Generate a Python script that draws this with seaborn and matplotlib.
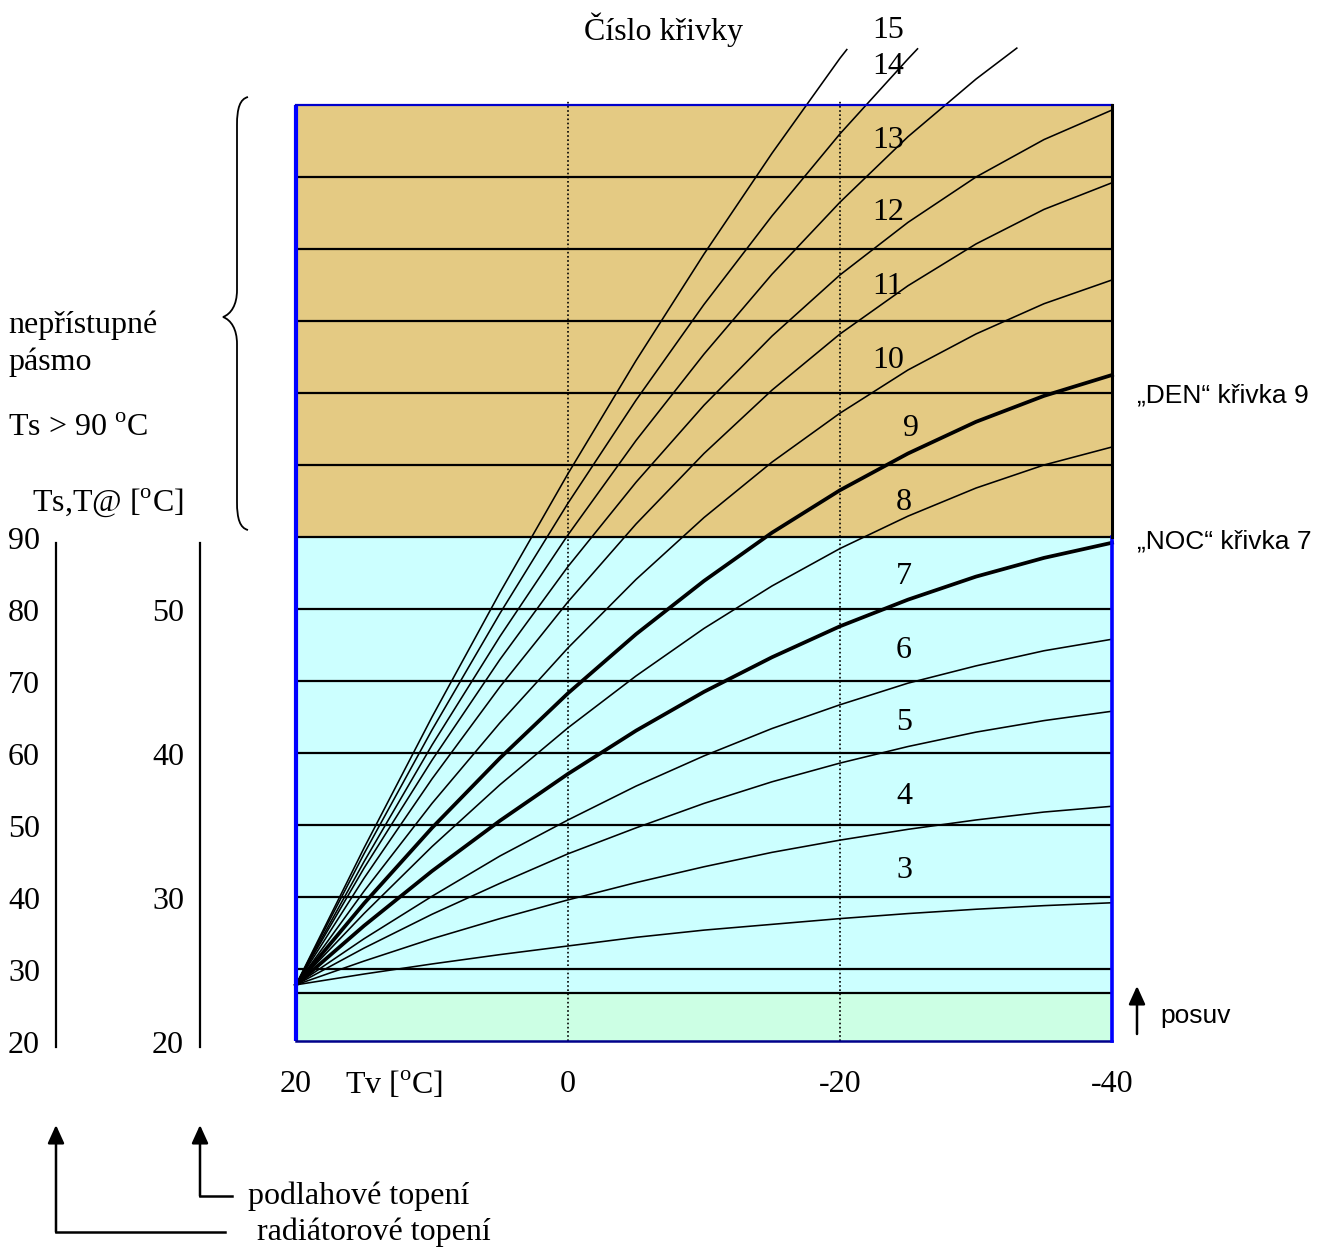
import matplotlib
matplotlib.use("Agg")
import matplotlib.pyplot as plt
import matplotlib.transforms as mtransforms
from matplotlib.path import Path
from matplotlib.patches import PathPatch
import pandas as pd
import seaborn as sns

# outdoor temperature Tv [°C] where the curves were read
tv = [20, 15, 10, 5, 0, -5, -10, -15, -20, -25, -30, -35, -40]

# supply temperature Ts [°C] of each heating curve
curve_3 = [27.8, 29.3, 30.7, 32.0, 33.2, 34.4, 35.4, 36.2, 37.0, 37.7, 38.3, 38.8, 39.2]
curve_4 = [27.8, 31.1, 34.2, 37.0, 39.6, 42.0, 44.2, 46.2, 47.9, 49.4, 50.7, 51.8, 52.6]
curve_5 = [27.8, 32.9, 37.6, 41.9, 46.0, 49.6, 53.0, 56.0, 58.6, 60.9, 62.9, 64.5, 65.8]
curve_6 = [27.8, 34.2, 40.1, 45.7, 50.7, 55.4, 59.6, 63.4, 66.7, 69.7, 72.1, 74.2, 75.8]
curve_7 = [27.8, 36.0, 43.6, 50.6, 57.1, 63.1, 68.5, 73.3, 77.6, 81.3, 84.5, 87.1, 89.2]
curve_8 = [27.8, 37.7, 47.0, 55.6, 63.5, 70.7, 77.3, 83.2, 88.4, 92.9, 96.8, 100.0, 102.5]
curve_9 = [27.8, 39.1, 49.6, 59.3, 68.3, 76.5, 83.9, 90.6, 96.5, 101.6, 106.0, 109.6, 112.5]
curve_10 = [27.8, 40.8, 53.0, 64.2, 74.6, 84.1, 92.7, 100.4, 107.2, 113.2, 118.2, 122.4, 125.7]
curve_11 = [27.8, 42.6, 56.4, 69.2, 81.0, 91.8, 101.6, 110.4, 118.2, 124.9, 130.7, 135.5, 139.2]
curve_12 = [27.8, 44.0, 59.0, 73.0, 85.9, 97.6, 108.3, 117.9, 126.4, 133.7, 140.0, 145.2, 149.3]

# the steep curves leave the chart at the top
tv_13 = [20, 15, 10, 5, 0, -5, -10, -15, -20, -25, -30, -33]
curve_13 = [27.8, 44.9, 61.1, 76.2, 90.3, 103.4, 115.4, 126.5, 136.5, 145.6, 153.6, 157.9]
tv_14 = [20, 15, 10, 5, 0, -5, -10, -15, -20, -25, -25.7]
curve_14 = [27.8, 46.0, 63.2, 79.4, 94.7, 109.0, 122.3, 134.6, 146.0, 156.4, 157.8]
tv_15 = [20, 15, 10, 5, 0, -5, -10, -15, -20, -20.5]
curve_15 = [27.8, 46.8, 65.0, 82.3, 98.8, 114.5, 129.3, 143.3, 156.5, 157.7]

bold_curves = [7, 9]          # "NOC" and "DEN"
grid_ts = [30, 40, 50, 60, 70, 80, 90, 100, 110, 120, 130, 140]
ts_limit = 90                 # above: inaccessible zone
shift_ts = 26.7               # "posuv" line
ts_top = 150
tv_marks = [0, -20]
tv_ticks = [20, 0, -20, -40]
radiator_ticks = [90, 80, 70, 60, 50, 40, 30, 20]
floor_ticks = [50, 40, 30, 20]

curves = {
    3: (tv, curve_3), 4: (tv, curve_4), 5: (tv, curve_5), 6: (tv, curve_6),
    7: (tv, curve_7), 8: (tv, curve_8), 9: (tv, curve_9), 10: (tv, curve_10),
    11: (tv, curve_11), 12: (tv, curve_12), 13: (tv_13, curve_13),
    14: (tv_14, curve_14), 15: (tv_15, curve_15),
}
rows = []
for n, (xs, ys) in curves.items():
    for x, y in zip(xs, ys):
        rows.append({"curve": n, "Tv": x, "Ts": y,
                     "w": "thick" if n in bold_curves else "thin"})
df = pd.DataFrame(rows)

plt.rcParams["mathtext.fontset"] = "custom"
plt.rcParams["mathtext.rm"] = "Liberation Serif"
SERIF = "Liberation Serif"
SANS = "Liberation Sans"

W, H = 1330, 1253
fig = plt.figure(figsize=(W / 100, H / 100), dpi=100)
ax = fig.add_axes([0, 0, 1, 1])
pix = mtransforms.Affine2D().scale(1 / W, -1 / H).translate(0, 1) + fig.transFigure
x_data = mtransforms.blended_transform_factory(ax.transData, pix)
y_data = mtransforms.blended_transform_factory(pix, ax.transData)

tan = "#E4CA83"
cyan = "#CCFFFF"
mint = "#CCFFE4"
ax.fill_between([20, -40], ts_limit, ts_top, color=tan, lw=0, zorder=0)
ax.fill_between([20, -40], shift_ts, ts_limit, color=cyan, lw=0, zorder=0)
ax.fill_between([20, -40], 20, shift_ts, color=mint, lw=0, zorder=0)

ax.hlines(grid_ts + [shift_ts], -40, 20, color="black", lw=1.6, zorder=1)
ax.vlines(tv_marks, 20, ts_top + 0.7, colors="black", linestyles=(0, (1, 1.5)), lw=1.2, zorder=1)

sns.lineplot(data=df, x="Tv", y="Ts", units="curve", estimator=None, size="w",
             sizes={"thin": 1.15, "thick": 2.7}, color="black", legend=False,
             sort=False, ax=ax, zorder=3)

# frame
ax.plot([20, 20], [20, ts_top], color="#0000FF", lw=3, zorder=4, solid_capstyle="butt")
ax.plot([20, -40], [ts_top, ts_top], color="#0000CC", lw=1.6, zorder=4)
ax.plot([20, -40], [20, 20], color="#00008B", lw=1.8, zorder=4)
ax.plot([-40, -40], [20, ts_limit], color="#0000FF", lw=2.6, zorder=4)
ax.plot([-40, -40], [ts_limit, ts_top], color="black", lw=2.2, zorder=4)

ax.set_xlim(20 + 296 / 13.6, 20 - (W - 296) / 13.6)
ax.set_ylim(20 - (H - 1041) / 7.2, 20 + 1041 / 7.2)
ax.axis("off")

fs = 23
sfs = 19
ax.text(664, 30, "Číslo křivky", transform=pix, ha="center", va="center", fontsize=fs, family=SERIF)

label_xy = {15: (888, 30), 14: (888, 67), 13: (888, 140), 12: (888, 213), 11: (888, 287),
            10: (888, 361), 9: (911, 428), 8: (904, 503), 7: (904, 576), 6: (904, 650),
            5: (904, 723), 4: (904, 796), 3: (904, 870)}
for n, (x, y) in label_xy.items():
    ax.text(x, y, str(n), transform=pix, ha="center", va="center", fontsize=fs, family=SERIF, zorder=5)

deg = r"$^{\mathrm{o}}$"
ax.text(8, 325, "nepřístupné", transform=pix, ha="left", va="center", fontsize=fs, family=SERIF)
ax.text(8, 362, "pásmo", transform=pix, ha="left", va="center", fontsize=fs, family=SERIF)
ax.text(8, 428, "Ts > 90 " + deg + "C", transform=pix, ha="left", va="center", fontsize=fs, family=SERIF)
ax.text(32, 503, "Ts,T@ [" + deg + "C]", transform=pix, ha="left", va="center", fontsize=fs, family=SERIF)

# left scales: radiator and floor heating
for v in radiator_ticks:
    ax.text(24, v - 0.6, str(v), transform=y_data, ha="center", va="center", fontsize=fs, family=SERIF)
for v in floor_ticks:
    ax.text(168, 20 + 2 * (v - 20) - 0.6, str(v), transform=y_data, ha="center", va="center",
            fontsize=fs, family=SERIF)
for x in [56, 200]:
    ax.plot([x, x], [19.2, 89.2], transform=y_data, color="black", lw=1.6)

for t in tv_ticks:
    ax.text(t, 1085, str(t), transform=x_data, ha="center", va="center", fontsize=fs, family=SERIF)
ax.text(345, 1085, "Tv [" + deg + "C]", transform=pix, ha="left", va="center", fontsize=fs, family=SERIF)

arrow = dict(arrowstyle="-|>,head_length=1.1,head_width=0.5", lw=1.8, color="black",
             shrinkA=0, shrinkB=0, mutation_scale=10)
ax.annotate("", xy=(56, 1125), xytext=(56, 1232), xycoords=pix, textcoords=pix, arrowprops=arrow)
ax.plot([56, 225], [1232, 1232], transform=pix, color="black", lw=1.8)
ax.annotate("", xy=(200, 1125), xytext=(200, 1196), xycoords=pix, textcoords=pix, arrowprops=arrow)
ax.plot([200, 232], [1196, 1196], transform=pix, color="black", lw=1.8)
ax.text(248, 1196, "podlahové topení", transform=pix, ha="left", va="center", fontsize=fs, family=SERIF)
ax.text(257, 1232, "radiátorové topení", transform=pix, ha="left", va="center", fontsize=fs, family=SERIF)

ax.annotate("", xy=(1137, 986), xytext=(1137, 1034), xycoords=pix, textcoords=pix, arrowprops=arrow)
ax.text(1160, 1016, "posuv", transform=pix, ha="left", va="center", fontsize=sfs, family=SANS)
ax.text(1137, 396, "„DEN“ křivka 9", transform=pix, ha="left", va="center", fontsize=sfs, family=SANS)
ax.text(1137, 542, "„NOC“ křivka 7", transform=pix, ha="left", va="center", fontsize=sfs, family=SANS)

# brace over the inaccessible zone
brace = Path(
    [(248, 97), (240, 99), (237, 108), (237, 125), (237, 290),
     (237, 305), (231, 314), (223, 317), (231, 320), (237, 329), (237, 344),
     (237, 502), (237, 519), (240, 528), (248, 530)],
    [Path.MOVETO, Path.CURVE4, Path.CURVE4, Path.CURVE4, Path.LINETO,
     Path.CURVE4, Path.CURVE4, Path.CURVE4, Path.CURVE4, Path.CURVE4, Path.CURVE4,
     Path.LINETO, Path.CURVE4, Path.CURVE4, Path.CURVE4])
ax.add_patch(PathPatch(brace, transform=pix, fill=False, lw=1.3, color="black"))

fig.savefig("out.png", dpi=100)
